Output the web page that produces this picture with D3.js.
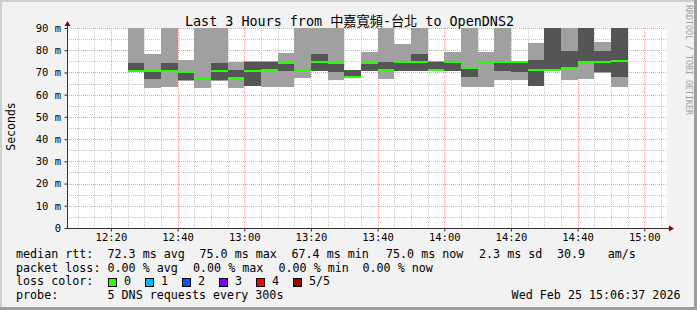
<!DOCTYPE html>
<html>
<head>
<meta charset="utf-8">
<script src="https://cdn.jsdelivr.net/npm/d3@7"></script>
<style>
  body { margin: 0; background: #f2f2f2; }
  svg { display: block; }
  text { font-family: "DejaVu Sans Mono", monospace; fill: #000; }
</style>
</head>
<body>
<div id="chart"></div>
<script>
// five pings per 5-minute slot, sorted: min, 2nd, median, 4th, max (ms)
var pingMin = [70.0, 63.2, 63.6, 66.2, 63.1, 66.0, 63.2, 63.8, 63.3, 63.3,
               67.3, 70.5, 66.6, 67.5, 70.5, 67.0, 70.6, 70.6, 70.9, 70.6,
               63.3, 63.6, 66.7, 66.5, 63.8, 70.8, 66.6, 66.9, 69.9, 63.6];
var ping2   = [70.6, 67.1, 70.7, 66.6, 67.3, 66.6, 67.5, 64.0, 71.0, 70.7,
               71.0, 70.7, 70.3, 67.7, 70.6, 70.8, 70.7, 70.7, 71.0, 70.7,
               67.9, 74.8, 70.7, 70.3, 63.9, 70.9, 71.7, 74.8, 70.0, 68.1];
var median  = [70.7, 70.8, 70.8, 70.4, 67.4, 70.6, 67.6, 70.8, 71.1, 74.4,
               71.2, 74.9, 74.1, 68.0, 74.4, 71.1, 74.9, 74.6, 71.1, 74.5,
               71.8, 74.9, 74.9, 74.7, 71.1, 71.0, 71.8, 74.9, 74.9, 75.0];
var ping4   = [74.4, 70.9, 74.4, 70.5, 67.9, 74.4, 71.1, 74.8, 74.8, 74.5,
               71.4, 78.3, 74.3, 71.0, 74.5, 74.9, 75.0, 78.4, 74.9, 74.6,
               72.0, 75.1, 75.0, 74.8, 75.6, 95.0, 79.7, 95.0, 79.7, 95.0];
var pingMax = [95.0, 78.3, 95.0, 75.6, 95.0, 95.0, 74.9, 75.0, 75.0, 78.9,
               95.0, 95.0, 95.0, 71.1, 79.1, 95.0, 82.7, 95.0, 75.0, 79.2,
               95.0, 79.4, 95.0, 75.0, 83.3, 96.0, 95.0, 96.0, 83.8, 96.0];

var yTicks = [0, 10, 20, 30, 40, 50, 60, 70, 80, 90];
var lossLabels = ["0", "1", "2", "3", "4", "5/5"];
var lossColors = ["#26ff00", "#00b8ff", "#0059ff", "#7e00ff", "#ff0000", "#a10000"];

var statLine1 = ["72.3 ms avg", "75.0 ms max", "67.4 ms min", "75.0 ms now", "2.3 ms sd", "30.9", "am/s"];
var statLine2 = ["0.00 % avg", "0.00 % max", "0.00 % min", "0.00 % now"];

var firstSlot = new Date(2026, 1, 25, 12, 25, 0);
var stepSec = 300;

var W = 697, H = 310;
var pl = 67, pr = 667, pt = 28, pb = 228;

var svg = d3.select("#chart").append("svg")
    .attr("width", W).attr("height", H);

// background + bevel
svg.append("rect").attr("width", W).attr("height", H).attr("fill", "#f2f2f2");
svg.append("rect").attr("x", 0).attr("y", 0).attr("width", W).attr("height", 2).attr("fill", "#cfcfcf");
svg.append("rect").attr("x", 0).attr("y", 0).attr("width", 2).attr("height", H).attr("fill", "#cfcfcf");
svg.append("rect").attr("x", 0).attr("y", H - 3).attr("width", W).attr("height", 3).attr("fill", "#9e9e9e");
svg.append("rect").attr("x", W - 3).attr("y", 0).attr("width", 3).attr("height", H).attr("fill", "#9e9e9e");

var x = d3.scaleTime()
    .domain([new Date(2026, 1, 25, 12, 6, 50), new Date(2026, 1, 25, 15, 6, 50)])
    .range([pl, pr]);
var y = d3.scaleLinear().domain([0, 90]).range([pb, pt]);

// canvas
svg.append("rect").attr("x", pl).attr("y", pt)
    .attr("width", pr - pl).attr("height", pb - pt).attr("fill", "#fff");

// grid
var grid = svg.append("g");
var minorT = d3.timeMinute.every(5).range(x.domain()[0], x.domain()[1]);
minorT.forEach(function(t) {
  var px = Math.round(x(t)) + 0.5;
  var major = t.getMinutes() % 20 == 0;
  grid.append("line").attr("x1", px).attr("x2", px).attr("y1", pt).attr("y2", pb)
      .attr("stroke", major ? "#f0a0a0" : "#c8c8c8").attr("stroke-dasharray", "1,1");
});
d3.range(5, 91, 5).forEach(function(v) {
  var py = Math.round(y(v)) + 0.5;
  grid.append("line").attr("x1", pl).attr("x2", pr).attr("y1", py).attr("y2", py)
      .attr("stroke", v % 10 == 0 ? "#f0a0a0" : "#c8c8c8").attr("stroke-dasharray", "1,1");
});

// smoke
svg.append("clipPath").attr("id", "cv").append("rect")
    .attr("x", pl).attr("y", pt).attr("width", pr - pl).attr("height", pb - pt);
var plot = svg.append("g").attr("clip-path", "url(#cv)").attr("shape-rendering", "crispEdges");

var slots = median.map(function(m, i) {
  var t0 = new Date(firstSlot.getTime() + i * stepSec * 1000);
  return { t0: t0, t1: new Date(t0.getTime() + stepSec * 1000),
           p1: pingMin[i], p2: ping2[i], p3: m, p4: ping4[i], p5: pingMax[i] };
});

plot.selectAll("rect.outer").data(slots).enter().append("rect")
    .attr("class", "outer")
    .attr("x", function(d) { return x(d.t0); })
    .attr("width", function(d) { return x(d.t1) - x(d.t0); })
    .attr("y", function(d) { return y(d.p5); })
    .attr("height", function(d) { return y(d.p1) - y(d.p5); })
    .attr("fill", "#a0a0a0");

plot.selectAll("rect.inner").data(slots).enter().append("rect")
    .attr("class", "inner")
    .attr("x", function(d) { return x(d.t0); })
    .attr("width", function(d) { return x(d.t1) - x(d.t0); })
    .attr("y", function(d) { return y(d.p4); })
    .attr("height", function(d) { return y(d.p2) - y(d.p4); })
    .attr("fill", "#555555");

plot.selectAll("rect.med").data(slots).enter().append("rect")
    .attr("class", "med")
    .attr("x", function(d) { return x(d.t0); })
    .attr("width", function(d) { return x(d.t1) - x(d.t0); })
    .attr("y", function(d) { return y(d.p3) - 1; })
    .attr("height", 2)
    .attr("fill", lossColors[0]);

// axes
var yAxis = svg.append("g").attr("transform", "translate(" + (pl + 0.5) + ",0)")
    .call(d3.axisLeft(y).tickValues(yTicks).tickSize(3).tickPadding(3.5)
      .tickFormat(function(v) { return v ? v + " m" : "0"; }));
yAxis.select(".domain").remove();
yAxis.selectAll("text").style("font-size", "10.5px").style("font-family", "DejaVu Sans Mono");
yAxis.selectAll("line").attr("stroke", "#333");

var xAxis = svg.append("g").attr("transform", "translate(0," + (pb + 0.5) + ")")
    .call(d3.axisBottom(x).ticks(d3.timeMinute.every(20)).tickSize(3).tickPadding(2.5)
      .tickFormat(d3.timeFormat("%H:%M")));
xAxis.select(".domain").remove();
xAxis.selectAll("text").style("font-size", "10.5px").style("font-family", "DejaVu Sans Mono");
xAxis.selectAll("line").attr("stroke", "#333");

svg.append("line").attr("x1", pl + 0.5).attr("x2", pl + 0.5).attr("y1", pb + 1).attr("y2", 24)
    .attr("stroke", "#333");
svg.append("line").attr("x1", pl).attr("x2", pr + 5).attr("y1", pb + 0.5).attr("y2", pb + 0.5)
    .attr("stroke", "#333");
svg.append("path").attr("d", "M64.5,26L70.5,26L67.5,21Z").attr("fill", "#8b0000");
svg.append("path").attr("d", "M669,225.5L669,231.5L674,228.5Z").attr("fill", "#8b0000");

// title
var title = svg.append("text").attr("x", 185).attr("y", 26.3).style("font-size", "13.4px");
title.append("tspan").text("Last 3 Hours from ");
title.append("tspan").style("font-family", "Noto Sans CJK TC").style("font-size", "13.2px").text("中嘉寬頻");
title.append("tspan").text("-");
title.append("tspan").style("font-family", "Noto Sans CJK TC").style("font-size", "13.2px").text("台北");
title.append("tspan").text(" to OpenDNS2");

// axis label and side credit
svg.append("text").attr("transform", "translate(14.5,126.5) rotate(-90)")
    .attr("text-anchor", "middle").style("font-size", "11.5px").text("Seconds");
svg.append("text").attr("transform", "translate(685.5,5) rotate(90)")
    .style("font-size", "8.3px").style("fill", "#a0a0a0").text("RRDTOOL / TOBI OETIKER");

// legend
var lg = svg.append("g").style("font-size", "11.7px");
var row = [258, 271.7, 285.3, 299];
lg.append("text").attr("x", 16).attr("y", row[0]).text("median rtt:");
[107.5, 199.5, 291.5, 386, 479, 557, 607.7].forEach(function(px, i) {
  lg.append("text").attr("x", px).attr("y", row[0]).text(statLine1[i]);
});
lg.append("text").attr("x", 16).attr("y", row[1]).text("packet loss:");
[107.5, 193, 278.5, 362.5].forEach(function(px, i) {
  lg.append("text").attr("x", px).attr("y", row[1]).text(statLine2[i]);
});
lg.append("text").attr("x", 16).attr("y", row[2]).text("loss color:");
lossLabels.forEach(function(l, i) {
  var bx = 108.5 + i * 37;
  lg.append("rect").attr("x", bx).attr("y", 278.5).attr("width", 8).attr("height", 8)
      .attr("fill", lossColors[i]).attr("stroke", "#000").attr("stroke-width", 1);
  lg.append("text").attr("x", bx + 15.5).attr("y", row[2]).text(l);
});
lg.append("text").attr("x", 16).attr("y", row[3]).text("probe:");
lg.append("text").attr("x", 107.5).attr("y", row[3]).text("5 DNS requests every 300s");
lg.append("text").attr("x", 680.5).attr("y", row[3]).attr("text-anchor", "end")
    .text("Wed Feb 25 15:06:37 2026");
</script>
</body>
</html>
